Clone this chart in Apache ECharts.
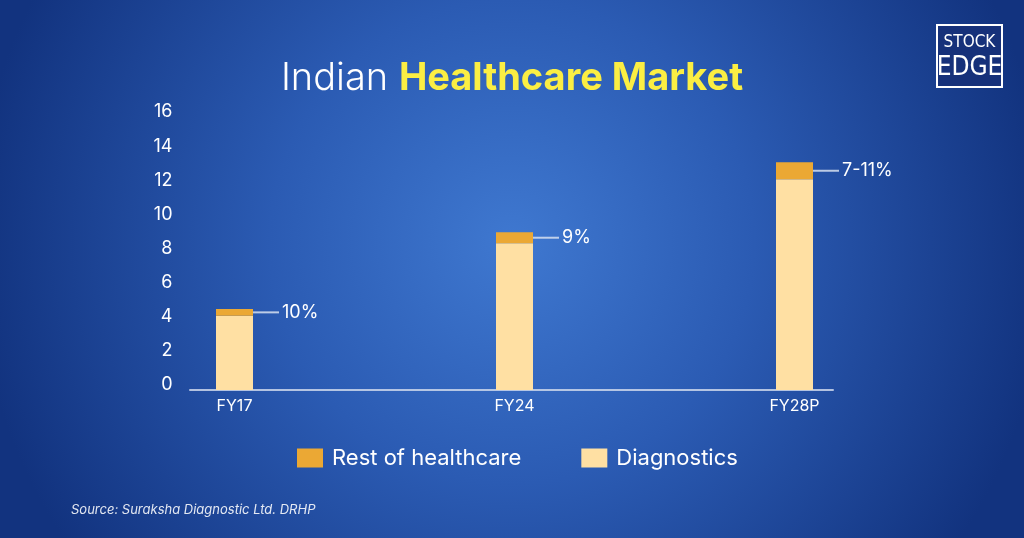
<!DOCTYPE html>
<html>
<head>
<meta charset="utf-8">
<script src="https://cdn.jsdelivr.net/npm/echarts@6/dist/echarts.min.js"></script>
<style>
html,body{margin:0;padding:0;background:#143785;}
#chart{width:1024px;height:538px;}
</style>
</head>
<body>
<div id="chart"></div>
<script>
const categories = ['FY17', 'FY24', 'FY28P'];
const diagnostics = [4.35, 8.6, 12.35];
const restOfHealthcare = [0.4, 0.65, 1.0];
const shareLabels = ['10%', '9%', '7-11%'];
const yTicks = { min: 0, max: 16, interval: 2 };

const FONT = 'Inter, "Noto Sans", sans-serif';
const chart = echarts.init(document.getElementById('chart'));

chart.setOption({
  backgroundColor: {
    type: 'radial', x: 0.5, y: 0.45, r: 1.0,
    colorStops: [
      { offset: 0, color: '#3f78d0' },
      { offset: 0.45, color: '#2b5bb3' },
      { offset: 1, color: '#12337f' }
    ]
  },
  textStyle: { fontFamily: FONT },
  title: [{
    text: '{a|Indian }{b|Healthcare Market}',
    left: 'center',
    top: 55,
    textStyle: {
      rich: {
        a: { fontFamily: FONT, fontSize: 38, fontWeight: 300, color: '#ffffff' },
        b: { fontFamily: FONT, fontSize: 38, fontWeight: 700, color: '#fbee43' }
      }
    }
  }, {
    text: 'Source: Suraksha Diagnostic Ltd. DRHP',
    left: 66,
    top: 499,
    textStyle: { fontFamily: FONT, fontSize: 13, fontStyle: 'italic', fontWeight: 400, color: 'rgba(255,255,255,0.88)' }
  }],
  legend: {
    data: ['Rest of healthcare', 'Diagnostics'],
    left: 292,
    top: 442,
    icon: 'rect',
    itemWidth: 26,
    itemHeight: 19,
    itemGap: 60,
    textStyle: { color: '#ffffff', fontSize: 22, fontFamily: FONT, padding: [0, 0, 0, 4] }
  },
  grid: [
    { left: 234.5, right: 229.5, top: 117, bottom: 148 },
    { left: 190, right: 191, top: 117, bottom: 148 }
  ],
  xAxis: [{
    type: 'category',
    data: categories,
    boundaryGap: false,
    gridIndex: 0,
    axisLine: { show: false },
    axisTick: { show: false },
    axisLabel: { color: '#ffffff', fontSize: 16, margin: 8, fontFamily: FONT }
  }, {
    type: 'value',
    gridIndex: 1,
    axisLine: { show: true, onZero: false, lineStyle: { color: 'rgba(205,215,235,0.85)', width: 2 } },
    axisTick: { show: false },
    axisLabel: { show: false },
    splitLine: { show: false }
  }],
  yAxis: [{
    type: 'value',
    gridIndex: 0,
    min: yTicks.min,
    max: yTicks.max,
    interval: yTicks.interval,
    axisLine: { show: false },
    axisTick: { show: false },
    splitLine: { show: false },
    axisLabel: {
      color: '#ffffff', fontSize: 18, margin: 62, fontFamily: FONT,
      verticalAlign: 'bottom', lineHeight: 10
    }
  }, {
    type: 'value',
    gridIndex: 1,
    min: yTicks.min,
    max: yTicks.max,
    show: false
  }],
  series: [{
    name: 'Diagnostics',
    type: 'bar',
    stack: 'total',
    xAxisIndex: 0,
    yAxisIndex: 0,
    barWidth: 37,
    data: diagnostics,
    itemStyle: { color: '#ffe0a3' }
  }, {
    name: 'Rest of healthcare',
    type: 'bar',
    stack: 'total',
    xAxisIndex: 0,
    yAxisIndex: 0,
    barWidth: 37,
    data: restOfHealthcare,
    itemStyle: { color: '#eba834' },
    label: {
      show: true,
      position: 'right',
      distance: 0,
      formatter: function (p) { return '{l|}{t|' + shareLabels[p.dataIndex] + '}'; },
      rich: {
        l: { width: 26, height: 2, backgroundColor: 'rgba(215,225,240,0.85)' },
        t: { fontSize: 18, color: '#ffffff', fontFamily: FONT, padding: [0, 0, 0, 3] }
      }
    }
  }],
  graphic: [{
    type: 'group',
    left: 936,
    top: 24,
    children: [{
      type: 'rect',
      shape: { x: 0, y: 0, width: 65, height: 62 },
      style: { fill: '#16317a', stroke: '#ffffff', lineWidth: 2 }
    }, {
      type: 'text',
      x: 32.5, y: 18,
      style: { text: 'STOCK', fill: '#ffffff', font: '17px "Liberation Sans Narrow", "DejaVu Sans Condensed", sans-serif', align: 'center', verticalAlign: 'middle' }
    }, {
      type: 'text',
      x: 32.5, y: 43,
      style: { text: 'EDGE', fill: '#ffffff', font: '26px "Liberation Sans Narrow", "DejaVu Sans Condensed", sans-serif', align: 'center', verticalAlign: 'middle' }
    }]
  }]
});
</script>
</body>
</html>
